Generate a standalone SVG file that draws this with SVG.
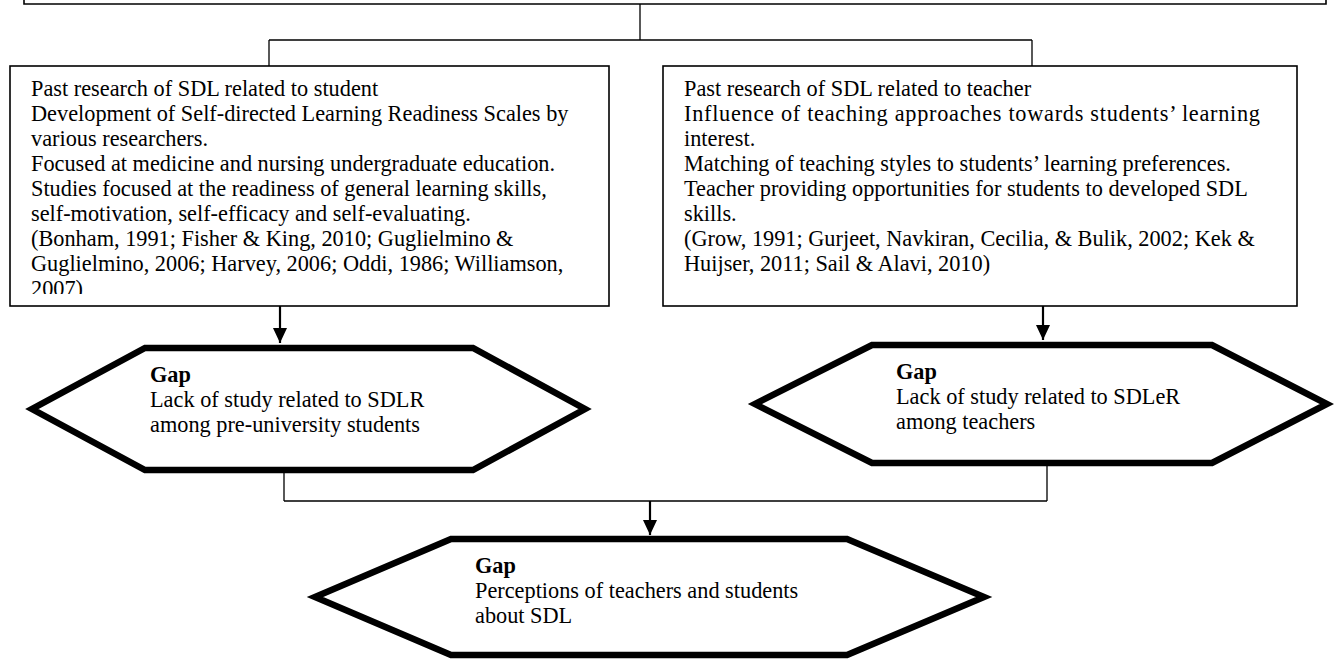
<svg xmlns="http://www.w3.org/2000/svg" width="1334" height="659" viewBox="0 0 1334 659">
<style>
  .box { fill: #fff; stroke: #000; stroke-width: 1.6; }
  .hex { fill: #fff; stroke: #000; stroke-width: 6.5; stroke-linejoin: miter; }
  .conn { fill: none; stroke: #000; stroke-width: 1.3; }
  .arrow { fill: none; stroke: #000; stroke-width: 2.2; }
  text { font-family: "Liberation Serif", "Times New Roman", serif; font-size: 22.3px; fill: #000; }
  .b { font-weight: bold; }
</style>
<defs>
  <marker id="ah" markerUnits="userSpaceOnUse" markerWidth="15" markerHeight="14" refX="15" refY="7" orient="auto">
    <path d="M0,0 L15,7 L0,14 z" fill="#000"/>
  </marker>
  <clipPath id="clipL"><rect x="10" y="66" width="599" height="228"/></clipPath>
</defs>
<rect width="1334" height="659" fill="#fff"/>

<g id="top-box">
  <path class="box" d="M24,-10 L24,4 L1326,4 L1326,-10"/>
</g>

<g id="connectors">
  <path class="conn" d="M640,4 L640,40 M269,40 L1032,40 M269,40 L269,66 M1032,40 L1032,66"/>
  <line class="arrow" x1="280" y1="306" x2="280" y2="343" marker-end="url(#ah)"/>
  <line class="arrow" x1="1043" y1="306" x2="1043" y2="340" marker-end="url(#ah)"/>
  <path class="conn" d="M284,473 L284,501 M1047,466 L1047,501 M284,501 L1047,501"/>
  <line class="arrow" x1="650" y1="501" x2="650" y2="535" marker-end="url(#ah)"/>
</g>

<g id="student-research">
  <rect class="box" x="10" y="66" width="599" height="240"/>
  <g clip-path="url(#clipL)">
    <text x="31" y="96">Past research of SDL related to student</text>
    <text x="31" y="121">Development of Self-directed Learning Readiness Scales by</text>
    <text x="31" y="146">various researchers.</text>
    <text x="31" y="171">Focused at medicine and nursing undergraduate education.</text>
    <text x="31" y="196">Studies focused at the readiness of general learning skills,</text>
    <text x="31" y="221">self-motivation, self-efficacy and self-evaluating.</text>
    <text x="31" y="246">(Bonham, 1991; Fisher &amp; King, 2010; Guglielmino &amp;</text>
    <text x="31" y="271">Guglielmino, 2006; Harvey, 2006; Oddi, 1986; Williamson,</text>
    <text x="31" y="296">2007)</text>
  </g>
</g>

<g id="teacher-research">
  <rect class="box" x="663" y="66" width="634" height="240"/>
  <text x="684" y="96">Past research of SDL related to teacher</text>
  <text x="684" y="121" textLength="576" lengthAdjust="spacing">Influence of teaching approaches towards students’ learning</text>
  <text x="684" y="146">interest.</text>
  <text x="684" y="171">Matching of teaching styles to students’ learning preferences.</text>
  <text x="684" y="196">Teacher providing opportunities for students to developed SDL</text>
  <text x="684" y="221">skills.</text>
  <text x="684" y="246">(Grow, 1991; Gurjeet, Navkiran, Cecilia, &amp; Bulik, 2002; Kek &amp;</text>
  <text x="684" y="271">Huijser, 2011; Sail &amp; Alavi, 2010)</text>
</g>

<g id="gap-student">
  <polygon class="hex" points="145,348 473,348 585,409 473,470 145,470 32,409"/>
  <text x="150" y="382" class="b">Gap</text>
  <text x="150" y="407">Lack of study related to SDLR</text>
  <text x="150" y="432">among pre-university students</text>
</g>

<g id="gap-teacher">
  <polygon class="hex" points="872,345 1212,345 1327,404 1212,463 872,463 755,404"/>
  <text x="896" y="379" class="b">Gap</text>
  <text x="896" y="404">Lack of study related to SDLeR</text>
  <text x="896" y="429">among teachers</text>
</g>

<g id="gap-perceptions">
  <polygon class="hex" points="451,539 847,539 984,597 847,655 451,655 315,597"/>
  <text x="475" y="573" class="b">Gap</text>
  <text x="475" y="598">Perceptions of teachers and students</text>
  <text x="475" y="623">about SDL</text>
</g>
</svg>
